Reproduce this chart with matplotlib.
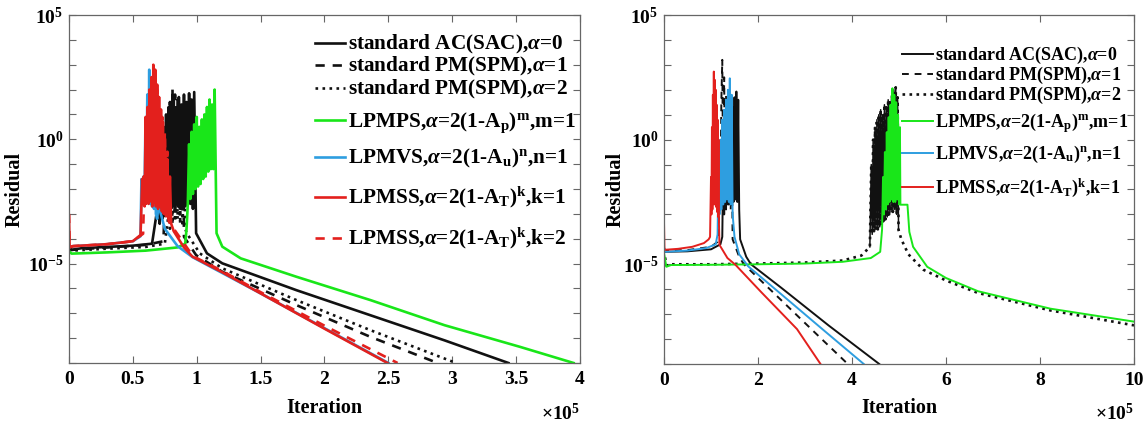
import numpy as np
import matplotlib.pyplot as plt
from matplotlib.ticker import NullLocator

plt.rcParams['font.family'] = 'Liberation Serif'
plt.rcParams['font.weight'] = 'bold'
plt.rcParams['mathtext.fontset'] = 'custom'
plt.rcParams['mathtext.rm'] = 'Liberation Serif:bold'
plt.rcParams['mathtext.bf'] = 'Liberation Serif:bold'
plt.rcParams['mathtext.it'] = 'Liberation Serif:italic'

# x in units of 1e5 iterations, y = log10(residual)
# ---------------- left panel ----------------
L_sac_x = [0, 0.02, 0.1, 0.3, 0.5, 0.65,
           0.70, 0.71, 0.72, 0.73, 0.74, 0.75, 0.76, 0.77, 0.78, 0.79, 0.80, 0.81, 0.82, 0.83,
           0.84, 0.85, 0.86, 0.87, 0.88, 0.89, 0.90, 0.91, 0.92, 0.93, 0.94, 0.95, 0.96, 0.97, 0.98,
           0.995, 1.08, 1.2, 1.78, 2.36, 2.94, 3.44]
L_sac_y = [-4.35, -4.45, -4.38, -4.33, -4.28, -4.2,
           -2.5, -3.4, -0.5, -3.2, 0.5, -3.0, 1.0, -2.8, 1.3, -3.0, 1.5, -2.7, 1.6, -2.9,
           1.2, -2.6, 1.7, -2.8, 1.4, -2.6, 1.8, -2.7, 1.5, -2.5, 1.85, -2.6, 1.6, -2.8, 1.9,
           -3.78, -4.59, -4.99, -6.07, -7.08, -8.09, -9.0]

L_spm1_x = [0, 0.02, 0.3, 0.6, 0.74,
            0.75, 0.76, 0.77, 0.78, 0.79, 0.80, 0.81, 0.82, 0.83, 0.84, 0.85, 0.86, 0.87, 0.88, 0.89,
            0.90, 0.995, 1.2, 1.78, 2.36, 2.886]
L_spm1_y = [-4.35, -4.45, -4.35, -4.25, -4.1,
            -2.0, -3.0, 0.5, -2.8, 1.5, -2.6, 2.07, -2.7, 1.8, -2.5, 1.6, -2.8, 1.2, -3.0, 0.8,
            -3.92, -4.66, -5.33, -6.67, -7.95, -9.0]

L_spm2_x = [0, 0.02, 0.3, 0.6, 0.75,
            0.78, 0.79, 0.80, 0.81, 0.82, 0.83, 0.84, 0.85, 0.86, 0.87, 0.88, 0.89, 0.90, 0.91,
            0.922, 1.024, 1.2, 1.78, 2.36, 3.03]
L_spm2_y = [-4.4, -4.48, -4.4, -4.33, -4.2,
            -3.0, -3.6, -1.5, -3.4, 0.2, -3.3, 1.2, -3.2, 0.8, -3.4, 0.5, -3.5, 0.0, -3.6,
            -3.78, -4.59, -5.19, -6.47, -7.68, -9.0]

L_ps_x = [0, 0.02, 0.3, 0.6, 0.85, 0.91,
          0.92, 0.93, 0.94, 0.95, 0.96, 0.97, 0.98, 0.99, 1.00, 1.01, 1.02, 1.03, 1.04, 1.05,
          1.06, 1.07, 1.08, 1.09, 1.10, 1.11, 1.12, 1.13, 1.14,
          1.155, 1.2, 1.344, 1.78, 2.36, 2.94, 3.53, 3.95]
L_ps_y = [-4.5, -4.6, -4.55, -4.48, -4.35, -4.2,
          -3.6, -2.6, -0.2, -2.4, 0.3, -2.2, 0.6, -2.0, 0.9, -1.9, 0.5, -1.8, 0.8, -1.6,
          1.0, -1.5, 1.3, -1.3, 1.6, -1.2, 1.4, -1.2, 2.0,
          -3.78, -4.32, -4.79, -5.53, -6.47, -7.48, -8.35, -9.0]

L_vs_x = [0, 0.03, 0.3, 0.5, 0.56,
          0.567, 0.575, 0.583, 0.590, 0.598, 0.605, 0.613, 0.620, 0.628, 0.635, 0.643, 0.650,
          0.658, 0.665, 0.673, 0.680,
          0.69, 0.70, 0.75, 0.85, 0.97, 1.2, 1.5, 2.0, 2.50]
L_vs_y = [-4.35, -4.3, -4.22, -4.1, -3.9,
          -1.6, -2.5, -1.5, -2.6, 0.5, -2.4, 1.8, -2.5, 2.8, -2.6, 2.2, -2.7,
          1.5, -2.8, 0.8, -3.0,
          -3.2, -2.64, -3.6, -4.3, -4.75, -5.38, -6.2, -7.6, -9.0]

L_ss1_x = [0, 0.005, 0.03, 0.3, 0.5, 0.56,
           0.573, 0.578, 0.585, 0.592, 0.600, 0.607, 0.615, 0.622, 0.630, 0.637, 0.645, 0.652,
           0.660, 0.667, 0.675, 0.682, 0.690, 0.697, 0.705, 0.712, 0.720, 0.727, 0.735, 0.742,
           0.750, 0.760, 0.770, 0.780, 0.790, 0.800,
           0.82, 0.9, 0.966, 1.2, 1.5, 2.0, 2.493]
L_ss1_y = [-3.1, -4.35, -4.3, -4.22, -4.1, -3.85,
           -1.6, -2.6, -1.5, -2.7, 0.9, -2.5, 1.3, -2.6, 2.0, -2.4, 2.5, -2.7,
           3.0, -2.5, 2.8, -2.6, 2.2, -2.8, 1.7, -2.7, 1.2, -2.9, 0.7, -3.0,
           0.0, -3.1, -0.8, -3.2, -1.5, -3.4,
           -3.7, -4.35, -4.72, -5.35, -6.2, -7.62, -9.0]

L_ss2_x = [0, 0.005, 0.03, 0.3, 0.5,
           0.58, 0.59, 0.60, 0.61, 0.62, 0.63, 0.64, 0.65, 0.66, 0.67, 0.68, 0.69, 0.70, 0.71,
           0.72, 0.73, 0.74, 0.75, 0.76, 0.77, 0.78,
           0.82, 0.97, 1.2, 1.5, 2.0, 2.572]
L_ss2_y = [-3.0, -4.35, -4.3, -4.22, -4.1,
           -3.8, -1.8, -2.8, 0.4, -2.6, 1.5, -2.5, 2.2, -2.6, 2.6, -2.7, 2.0, -2.6, 1.4,
           -2.8, 0.9, -3.0, 0.3, -3.1, -0.5, -3.3,
           -3.6, -4.7, -5.3, -6.15, -7.5, -9.0]

# ---------------- right panel ----------------
R_sac_x = [0, 0.02, 0.5, 1.0, 1.2,
           1.24, 1.26, 1.28, 1.30, 1.32, 1.34, 1.36, 1.38, 1.40, 1.42, 1.44, 1.46, 1.48, 1.50,
           1.52, 1.54, 1.56, 1.58, 1.60,
           1.62, 1.75, 1.85, 2.5, 3.5, 4.58]
R_sac_y = [-4.35, -4.5, -4.48, -4.4, -4.2,
           -3.9, -1.0, -3.0, 0.2, -2.8, 0.8, -2.6, 1.2, -2.5, 1.5, -2.4, 1.3, -2.5, 1.7,
           -2.4, 1.93, -2.5, 1.6, -2.8,
           -4.0, -4.7, -5.0, -5.95, -7.45, -9.0]

R_spm1_x = [0, 0.02, 0.5, 1.0, 1.14,
            1.16, 1.18, 1.20, 1.22, 1.24, 1.26, 1.28, 1.30, 1.32, 1.34, 1.36, 1.38, 1.40, 1.42, 1.44,
            1.46, 1.6, 1.7, 2.5, 3.2, 3.91]
R_spm1_y = [-4.35, -4.45, -4.43, -4.3, -4.1,
            -3.9, -1.5, -2.8, 1.5, 3.2, -2.5, 2.5, -2.6, 1.8, -2.5, 1.2, -2.6, 0.8, -2.8, 0.2,
            -4.0, -4.7, -5.0, -6.45, -7.72, -9.0]

R_spm2_x = [0, 0.05, 0.15, 1, 2, 3, 3.8, 4.2,
            4.38, 4.41, 4.43, 4.45, 4.47, 4.49, 4.51, 4.53, 4.55, 4.57, 4.59, 4.61, 4.63, 4.65,
            4.67, 4.69, 4.71, 4.73, 4.75, 4.77, 4.79, 4.81, 4.83, 4.85, 4.87, 4.89, 4.91, 4.93,
            4.95, 4.97, 4.99,
            5.05, 5.2, 5.52, 6.0, 6.68, 8.22, 10]
R_spm2_y = [-4.45, -5.05, -5.0, -5.0, -4.97, -4.93, -4.85, -4.65,
            -4.3, -1.0, -3.8, 0.0, -3.7, 0.5, -3.6, 0.8, -3.6, 1.0, -3.5, 1.2, -3.4, 1.0,
            -3.3, 1.4, -3.2, 1.3, -3.1, 1.6, -3.0, 1.5, -2.9, 1.8, -2.9, 2.0, -2.8, 2.1,
            -3.0, 1.7, -3.62,
            -4.0, -4.6, -5.22, -5.65, -6.15, -6.85, -7.45]
R_spm2_burst = slice(8, 39)   # dense oscillation part, reads as solid black

R_ps_x = [0, 0.05, 0.15, 1, 2, 3, 3.8, 4.4,
          4.60, 4.64, 4.66, 4.68, 4.70, 4.72, 4.74, 4.76, 4.78, 4.80, 4.82, 4.84, 4.86, 4.88,
          4.90, 4.92, 4.94, 4.96, 4.98, 5.00, 5.02,
          5.03, 5.18, 5.22, 5.3, 5.6, 6.0, 6.68, 8.22, 10]
R_ps_y = [-4.55, -5.1, -5.03, -5.02, -5.0, -4.97, -4.9, -4.75,
          -4.5, -3.6, -1.5, -3.0, -0.5, -2.8, 0.3, -2.6, 0.9, -2.5, 1.4, -2.4, 2.06, -2.5,
          1.8, -2.5, 1.5, -2.4, 1.0, -2.6, 0.5,
          -2.61, -2.61, -3.7, -4.3, -5.1, -5.55, -6.08, -6.78, -7.3]

R_vs_x = [0, 0.02, 0.5, 0.9, 1.1,
          1.14, 1.16, 1.18, 1.20, 1.22, 1.24, 1.26, 1.28, 1.30, 1.32, 1.34, 1.36, 1.38, 1.40,
          1.42, 1.44, 1.46,
          1.5, 1.6, 1.79, 2.5, 3.4, 4.25]
R_vs_y = [-4.3, -4.5, -4.45, -4.35, -4.2,
          -3.8, -1.2, -3.0, 0.0, -2.8, 0.8, -2.6, 1.2, -2.5, 1.6, -2.4, 2.0, -2.5, 2.46,
          -2.6, 1.8, -3.0,
          -3.9, -4.6, -5.08, -6.21, -7.65, -9.0]

R_ss1_x = [0, 0.01, 0.3, 0.6, 0.85, 0.95,
           0.98, 1.00, 1.01, 1.02, 1.03, 1.04, 1.05, 1.06, 1.07, 1.08, 1.09, 1.10, 1.11, 1.12,
           1.13, 1.14, 1.15, 1.16, 1.17,
           1.18, 1.35, 1.52, 2.06, 2.83, 3.33]
R_ss1_y = [-3.28, -4.42, -4.38, -4.3, -4.15, -4.0,
           -3.9, -1.5, -3.0, 0.5, -2.8, 1.8, -2.5, 2.73, -2.6, 2.4, -2.4, 2.0, -2.7, 1.4,
           -2.9, 0.8, -3.1, 0.0, -3.4,
           -4.22, -4.75, -5.02, -6.1, -7.6, -9.0]

labels = ['standard AC(SAC),$\\alpha$=0',
          'standard PM(SPM),$\\alpha$=1',
          'standard PM(SPM),$\\alpha$=2',
          'LPMPS,$\\alpha$=2(1-A$_\\mathbf{p}$)$^\\mathbf{m}$,m=1',
          'LPMVS,$\\alpha$=2(1-A$_\\mathbf{u}$)$^\\mathbf{n}$,n=1',
          'LPMSS,$\\alpha$=2(1-A$_\\mathbf{T}$)$^\\mathbf{k}$,k=1',
          'LPMSS,$\\alpha$=2(1-A$_\\mathbf{T}$)$^\\mathbf{k}$,k=2']

BLACK = '#111111'
GREEN = '#19e619'
BLUE = '#2e9ee0'
RED = '#e3201d'
DASH = (0, (3.5, 3))

W, H = 1147, 423
# axes boxes in pixels: left, top, right, bottom
boxL = (69, 15, 580, 363)
boxR = (664, 15, 1134, 364)

fig = plt.figure(figsize=(W / 100, H / 100), dpi=100)


def make_axes(b):
    return fig.add_axes([b[0] / W, 1 - b[3] / H, (b[2] - b[0]) / W, (b[3] - b[1]) / H])


axL = make_axes(boxL)
axR = make_axes(boxR)

left_series = [(L_sac_x, L_sac_y, BLACK, '-'), (L_spm1_x, L_spm1_y, BLACK, DASH),
               (L_spm2_x, L_spm2_y, BLACK, ':'), (L_ps_x, L_ps_y, GREEN, '-'),
               (L_vs_x, L_vs_y, BLUE, '-'), (L_ss1_x, L_ss1_y, RED, '-'),
               (L_ss2_x, L_ss2_y, RED, DASH)]
right_series = [(R_sac_x, R_sac_y, BLACK, '-'), (R_spm1_x, R_spm1_y, BLACK, DASH),
                (R_spm2_x, R_spm2_y, BLACK, ':'), (R_ps_x, R_ps_y, GREEN, '-'),
                (R_vs_x, R_vs_y, BLUE, '-'), (R_ss1_x, R_ss1_y, RED, '-')]

for ax, series, lw in [(axL, left_series, 1.9), (axR, right_series, 1.4)]:
    for x, y, c, ls in series:
        w = 1.9 if ls == ':' else lw
        ax.semilogy(x, 10.0 ** np.array(y), color=c, ls=ls, lw=w)
        if ax is axR and x is R_spm2_x:
            # the very dense oscillations of the dotted curve look solid in the original
            ax.semilogy(x[R_spm2_burst], 10.0 ** np.array(y[R_spm2_burst]), color=c, lw=1.1)

for ax, box, xmax, step, ylab_x in [(axL, boxL, 4, 0.5, 15), (axR, boxR, 10, 2, 616)]:
    ax.set_xlim(0, xmax)
    ax.set_ylim(1e-9, 1e5)
    xt = np.arange(0, xmax + step / 2, step)
    ax.set_xticks(xt)
    ax.set_xticklabels(['%g' % v for v in xt])
    ax.set_yticks([10.0 ** k for k in range(-9, 6)])
    ax.set_yticklabels(['$\\mathbf{10^{%d}}$' % k if k in (-5, 0, 5) else '' for k in range(-9, 6)])
    ax.yaxis.set_minor_locator(NullLocator())
    ax.tick_params(direction='in', top=True, right=True, length=5, width=0.8,
                   color='#666666', labelsize=14, pad=6)
    ax.tick_params(axis='y', pad=4)
    for s in ax.spines.values():
        s.set_color('#666666')
        s.set_linewidth(0.9)
    wid, hgt = box[2] - box[0], box[3] - box[1]
    ax.set_xlabel('Iteration', fontsize=14.5, fontweight='bold', va='baseline')
    ax.xaxis.set_label_coords(0.5, -(413 - box[3]) / hgt)
    ax.set_ylabel('Residual', fontsize=14.5, fontweight='bold', va='center')
    ax.yaxis.set_label_coords((ylab_x - box[0]) / wid, 0.5)
    ax.text(1.0, -(420 - box[3]) / hgt, '$\\times$10$^5$', transform=ax.transAxes,
            ha='right', va='baseline', fontsize=14)


def draw_legend(ax, box, series, rows_px, x0, x1, xt, fs, cap, lw):
    wid, hgt = box[2] - box[0], box[3] - box[1]
    for (x, y, c, ls), lab, py in zip(series, labels, rows_px):
        yy = (box[3] - py) / hgt
        w = 1.9 if ls == ':' else lw
        ax.plot([(x0 - box[0]) / wid, (x1 - box[0]) / wid], [yy, yy], color=c, ls=ls, lw=w,
                transform=ax.transAxes, clip_on=False)
        ax.text((xt - box[0]) / wid, (box[3] - py - cap / 2) / hgt, lab, transform=ax.transAxes,
                ha='left', va='baseline', fontsize=fs)


draw_legend(axL, boxL, left_series, [43, 65, 88, 120, 157, 197, 238],
            315, 345, 348, 15.3, 13.5, 1.9)
draw_legend(axR, boxR, right_series, [54, 74, 94, 121, 153, 187],
            902, 933, 935, 13.0, 12, 1.4)

fig.savefig('out.png', dpi=100, facecolor='white')
